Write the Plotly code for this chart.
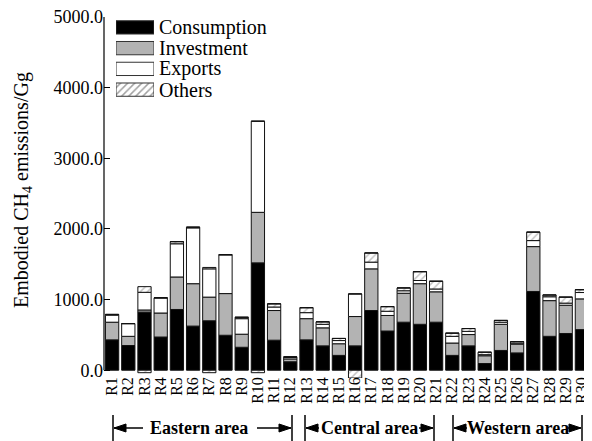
import plotly.graph_objects as go

regions = ["R1", "R2", "R3", "R4", "R5", "R6", "R7", "R8", "R9", "R10",
           "R11", "R12", "R13", "R14", "R15", "R16", "R17", "R18", "R19", "R20",
           "R21", "R22", "R23", "R24", "R25", "R26", "R27", "R28", "R29", "R30"]
consumption = [430, 350, 823, 470, 860, 625, 700, 495, 325, 1520,
               425, 120, 430, 345, 210, 345, 845, 555, 680, 650,
               680, 210, 345, 95, 280, 245, 1115, 480, 520, 575]
investment = [250, 130, 30, 340, 460, 600, 335, 590, 185, 715,
              420, 40, 300, 255, 165, 415, 590, 220, 410, 575,
              430, 175, 160, 110, 370, 125, 635, 505, 400, 435]
exports = [100, 180, 250, 215, 470, 790, 400, 550, 220, 1290,
           50, 20, 85, 50, 45, 320, 95, 60, 35, 45,
           40, 95, 45, 15, 30, 15, 85, 55, 30, 90]
others = [10, 0, 80, 0, 30, 10, 20, 0, 20, 0,
          45, 10, 70, 35, 30, 0, 130, 65, 40, 125,
          110, 45, 40, 35, 25, 20, 120, 25, 85, 40]
others_negative = [0, 0, -35, 0, 0, 0, -35, 0, 0, -35,
                   0, 0, 0, 0, 0, -110, 0, 0, 0, 0,
                   0, 0, 0, 0, 0, 0, 0, 0, 0, 0]
y_tick_values = [0, 1000, 2000, 3000, 4000, 5000]
y_tick_labels = ["0.0", "1000.0", "2000.0", "3000.0", "4000.0", "5000.0"]
series_names = ["Consumption", "Investment", "Exports", "Others"]
areas = ["Eastern area", "Central area", "Western area"]

FONT = "Liberation Serif"
W, H = 592, 441
OFF = 8  # page body margin: figure is drawn 8px right/down in the window
# plot area in page pixels: x 104..590, y 17..378
ML, MR, MT, MB = 104 - OFF, W - (590 - OFF), 17 - OFF, H - (378 - OFF)
PW = W - ML - MR
PH = H - MT - MB


def xp(px):
    """page pixel x -> paper"""
    return (px - OFF - ML) / PW


def yp(py):
    """page pixel y -> paper"""
    return 1 - (py - OFF - MT) / PH


GRAY = "#b3b3b3"
line = dict(color="#111111", width=1)
hatch = dict(shape="/", fgcolor="#8a8a8a", bgcolor="white", size=5, solidity=0.3)

fig = go.Figure()
fig.add_trace(go.Bar(x=regions, y=consumption, name=series_names[0],
                     marker=dict(color="black", line=line)))
fig.add_trace(go.Bar(x=regions, y=investment, name=series_names[1],
                     marker=dict(color=GRAY, line=line)))
fig.add_trace(go.Bar(x=regions, y=exports, name=series_names[2],
                     marker=dict(color="white", line=line)))
fig.add_trace(go.Bar(x=regions, y=others, name=series_names[3],
                     marker=dict(color="white", line=line, pattern=hatch)))
fig.add_trace(go.Bar(x=regions, y=others_negative, name=series_names[3],
                     marker=dict(color="white", line=line, pattern=hatch)))

# legend swatches drawn as bars on an overlay axis
fig.add_trace(go.Bar(
    y=[0, 1, 2, 3], x=[1, 1, 1, 1], orientation="h", width=0.64,
    xaxis="x2", yaxis="y2", hoverinfo="skip",
    marker=dict(color=["black", GRAY, "white", "white"],
                line=dict(color="#333333", width=1),
                pattern=dict(shape=["", "", "", "/"], fgcolor="#8a8a8a",
                             bgcolor="white", size=5, solidity=0.3)),
))

annotations = []
legend_y = [27.4, 48.1, 68.9, 89.6]
for name, py in zip(series_names, legend_y):
    annotations.append(dict(x=xp(157), y=yp(py), xref="paper", yref="paper",
                            text=name, showarrow=False, xanchor="left", yanchor="middle",
                            font=dict(family=FONT, size=20, color="black")))

# y-axis title
annotations.append(dict(x=xp(22), y=yp(190), xref="paper", yref="paper",
                        text="Embodied CH<sub>4</sub> emissions/Gg", textangle=-90,
                        xanchor="center", yanchor="middle",
                        showarrow=False, font=dict(family=FONT, size=20, color="black")))

shapes = []


def arrow(head, tail, y):
    shapes.append(dict(type="line", xref="paper", yref="paper",
                       x0=xp(tail), x1=xp(head), y0=yp(y), y1=yp(y),
                       line=dict(color="black", width=1.5)))
    d = 12 if tail > head else -12
    path = "M {:.5f},{:.5f} L {:.5f},{:.5f} L {:.5f},{:.5f} Z".format(
        xp(head), yp(y), xp(head + d), yp(y - 4), xp(head + d), yp(y + 4))
    shapes.append(dict(type="path", xref="paper", yref="paper", path=path,
                       fillcolor="black", line=dict(color="black", width=1)))


# group labels with arrows
groups = [
    (areas[0], 113, 292, 199, 143, 257),
    (areas[1], 305, 434, 369, 319, 419),
    (areas[2], 453, 582, 518, 467, 568),
]
gy = 428
for name, left, right, center, ltail, rtail in groups:
    annotations.append(dict(x=xp(center), y=yp(gy), xref="paper", yref="paper",
                            text="<b>" + name + "</b>", showarrow=False,
                            xanchor="center", yanchor="middle",
                            font=dict(family=FONT, size=18, color="black")))
    arrow(left + 1, ltail, gy)
    arrow(right - 1, rtail, gy)
    for bx in (left, right):
        shapes.append(dict(type="line", xref="paper", yref="paper",
                           x0=xp(bx), x1=xp(bx), y0=yp(415), y1=yp(441),
                           line=dict(color="black", width=1.5)))

# left axis line from 0 to 5000
shapes.append(dict(type="line", xref="paper", yref="y", x0=0, x1=0, y0=0, y1=5000,
                   line=dict(color="black", width=1.2)))

fig.update_layout(
    width=W, height=H,
    margin=dict(l=ML, r=MR, t=MT, b=MB, pad=0, autoexpand=False),
    barmode="relative", bargap=0.18,
    plot_bgcolor="white", paper_bgcolor="white",
    font=dict(family=FONT, color="black"),
    showlegend=False,
    xaxis=dict(type="category", range=[-0.5, 29.5], tickangle=-90,
               tickmode="array", tickvals=regions, ticktext=regions,
               tickfont=dict(family=FONT, size=16, color="black"),
               ticklabeloverflow="allow", ticklabelstandoff=-5,
               showline=False, showgrid=False, zeroline=False, ticks=""),
    yaxis=dict(range=[-110, 5000], tickvals=y_tick_values, ticktext=y_tick_labels,
               tickfont=dict(family=FONT, size=18, color="black"),
               ticklabeloverflow="allow",
               ticks="inside", ticklen=6, tickcolor="black",
               showline=False, showgrid=False, zeroline=False),
    xaxis2=dict(domain=[xp(116), xp(154)], anchor="y2", range=[0, 1],
                visible=False, fixedrange=True),
    yaxis2=dict(domain=[yp(100), 1.0], anchor="x2", range=[3.5, -0.5],
                visible=False, fixedrange=True),
    annotations=annotations,
    shapes=shapes,
)

fig.write_html("out.html")
